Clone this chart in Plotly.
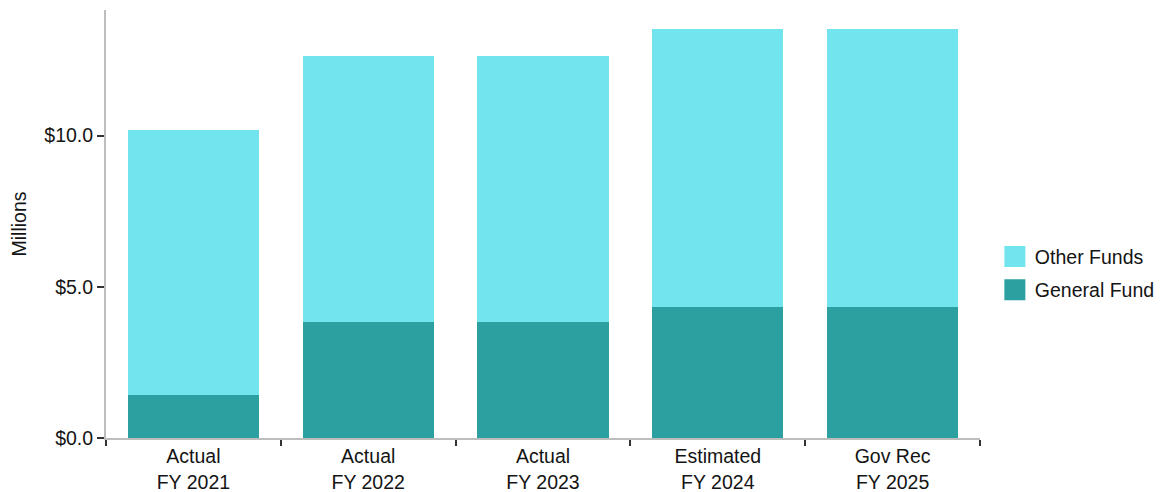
import plotly.graph_objects as go

categories = ["Actual<br>FY 2021", "Actual<br>FY 2022", "Actual<br>FY 2023",
              "Estimated<br>FY 2024", "Gov Rec<br>FY 2025"]
general_fund = [1.41, 3.84, 3.84, 4.34, 4.34]
other_funds = [8.78, 8.78, 8.78, 9.17, 9.17]
series_names = ["General Fund", "Other Funds"]
series_colors = ["#2CA0A0", "#72E4EE"]
legend_ranks = [2, 1]
y_tick_vals = [0, 5, 10]
y_tick_text = ["$0.0", "$5.0", "$10.0"]

fig = go.Figure()
for name, vals, col, rk in zip(series_names, [general_fund, other_funds], series_colors, legend_ranks):
    fig.add_trace(go.Bar(x=categories, y=vals, name=name, showlegend=False,
                         legendgroup=name, legendrank=rk,
                         marker=dict(color=col, line=dict(width=0))))
# legend-only entries with larger square swatches
for name, col, rk in zip(series_names, series_colors, legend_ranks):
    fig.add_trace(go.Scatter(x=[categories[0]], y=[None], name=name, legendgroup=name,
                             legendrank=rk, mode="markers",
                             marker=dict(symbol="square", size=16, color=col,
                                         line=dict(width=5, color=col))))

font_family = "Liberation Sans, Arial, sans-serif"
txt = "#141414"
fig.update_layout(
    barmode="stack",
    bargap=0.25,
    width=1164, height=492,
    margin=dict(l=98, r=192, t=2, b=62),
    plot_bgcolor="white", paper_bgcolor="white",
    font=dict(family=font_family, color=txt, size=19.5),
    showlegend=True,
    legend=dict(traceorder="grouped", x=1.017, xanchor="left", y=0.385,
                yanchor="middle", font=dict(size=19.5, color=txt), itemsizing="trace",
                tracegroupgap=5),
    xaxis=dict(showline=True, linecolor="#BDBDBD", linewidth=2, ticks="outside",
               tickson="boundaries", ticklen=6, tickcolor="#333333", tickwidth=2,
               tickfont=dict(size=19.5, color=txt), showgrid=False),
    yaxis=dict(range=[0, 14.15], showline=True, linecolor="#BDBDBD", linewidth=2,
               ticks="outside", ticklen=7, tickcolor="#333333", tickwidth=2,
               tickvals=y_tick_vals, ticktext=y_tick_text, showgrid=False, zeroline=False,
               tickfont=dict(size=19.5, color=txt),
               title=dict(text="Millions", font=dict(size=19.5, color=txt), standoff=18)),
)
fig.write_html("out.html")
